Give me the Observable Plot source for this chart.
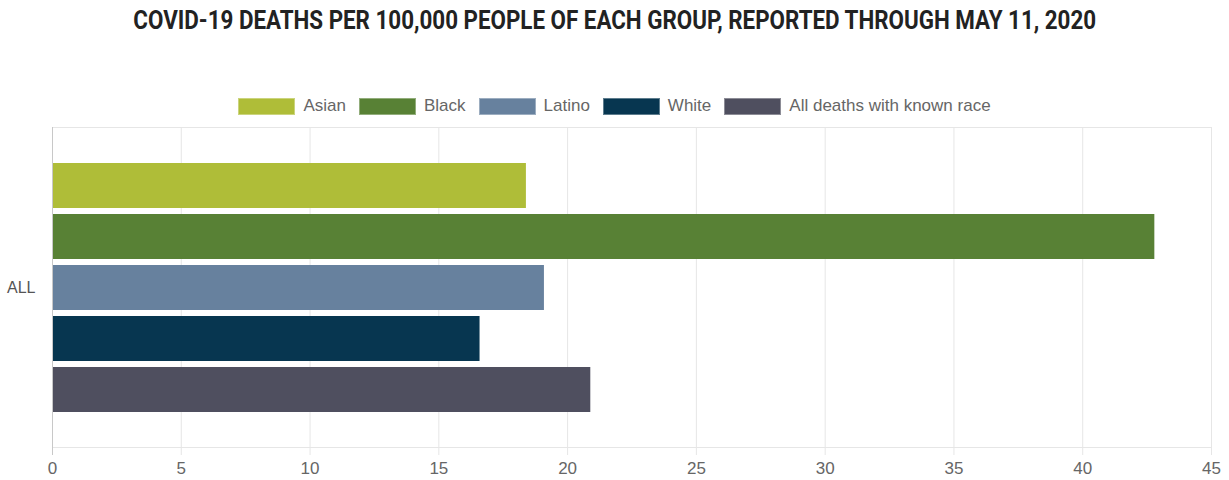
<!DOCTYPE html>
<html><head><meta charset="utf-8">
<script src="https://cdn.jsdelivr.net/npm/d3@7"></script>
<script src="https://cdn.jsdelivr.net/npm/@observablehq/plot@0.6"></script>
<style>
body{margin:0;background:#fff;width:1229px;height:480px;overflow:hidden;font-family:"Liberation Sans",Arial,sans-serif;position:relative;}
#title{position:absolute;top:5px;left:0;width:1229px;text-align:center;font-family:Roboto,sans-serif;font-weight:700;font-size:26px;color:#222;white-space:nowrap;}
#title span{display:inline-block;transform:scaleX(0.86);transform-origin:center;}
#legend{position:absolute;top:96px;left:0;width:1229px;display:flex;justify-content:center;align-items:center;font-size:17px;color:#666;}
.item{display:flex;align-items:center;margin:0 6.5px;}
.sw{width:57px;height:17px;margin-right:8px;box-sizing:border-box;border:1px solid rgba(255,255,255,0.35);}
#chart{position:absolute;top:120px;left:0;}
</style>
</head><body>
<div id="title"><span>COVID-19 DEATHS PER 100,000 PEOPLE OF EACH GROUP, REPORTED THROUGH MAY 11, 2020</span></div>
<div id="legend"></div>
<div id="chart"></div>
<script>
const category = "ALL";
const groups = ["Asian", "Black", "Latino", "White", "All deaths with known race"];
const values = [18.4, 42.8, 19.1, 16.6, 20.9];
const colors = ["#afbd38", "#588135", "#67819e", "#073650", "#4f4f5f"];
const xTicks = [0, 5, 10, 15, 20, 25, 30, 35, 40, 45];

const data = groups.map((g, i) => ({category, group: g, value: values[i]}));

const legend = document.getElementById("legend");
groups.forEach((g, i) => {
  const item = document.createElement("div");
  item.className = "item";
  const sw = document.createElement("div");
  sw.className = "sw";
  sw.style.background = colors[i];
  const t = document.createElement("span");
  t.textContent = g;
  item.appendChild(sw);
  item.appendChild(t);
  legend.appendChild(item);
});

const chart = Plot.plot({
  width: 1229,
  height: 360,
  marginLeft: 52,
  marginRight: 18,
  marginTop: 7,
  marginBottom: 33,
  style: {fontFamily: "'Liberation Sans', Arial, sans-serif", background: "transparent", overflow: "visible"},
  x: {domain: [0, 45], ticks: xTicks},
  y: {domain: groups, paddingInner: 0.118, paddingOuter: 0.696, axis: null},
  fy: {domain: [category], padding: 0, axis: null},
  color: {domain: groups, range: colors},
  marks: [
    Plot.frame({stroke: "#e6e6e6"}),
    Plot.gridX({ticks: xTicks, stroke: "#e6e6e6", strokeOpacity: 1}),
    Plot.axisX({ticks: xTicks, tickSize: 8, stroke: "#e6e6e6", strokeOpacity: 1, tickPadding: 6, fill: "#666", fontSize: 17, label: null}),
    Plot.barX(data, {x: "value", y: "group", fy: "category", fill: "group"}),
    Plot.ruleX([0], {stroke: "#c8c8c8", insetBottom: -8}),
    Plot.axisFy({anchor: "left", tickSize: 0, tickPadding: 17, label: null, fontSize: 16, fill: "#555"})
  ]
});
document.getElementById("chart").appendChild(chart);
</script>
</body></html>
